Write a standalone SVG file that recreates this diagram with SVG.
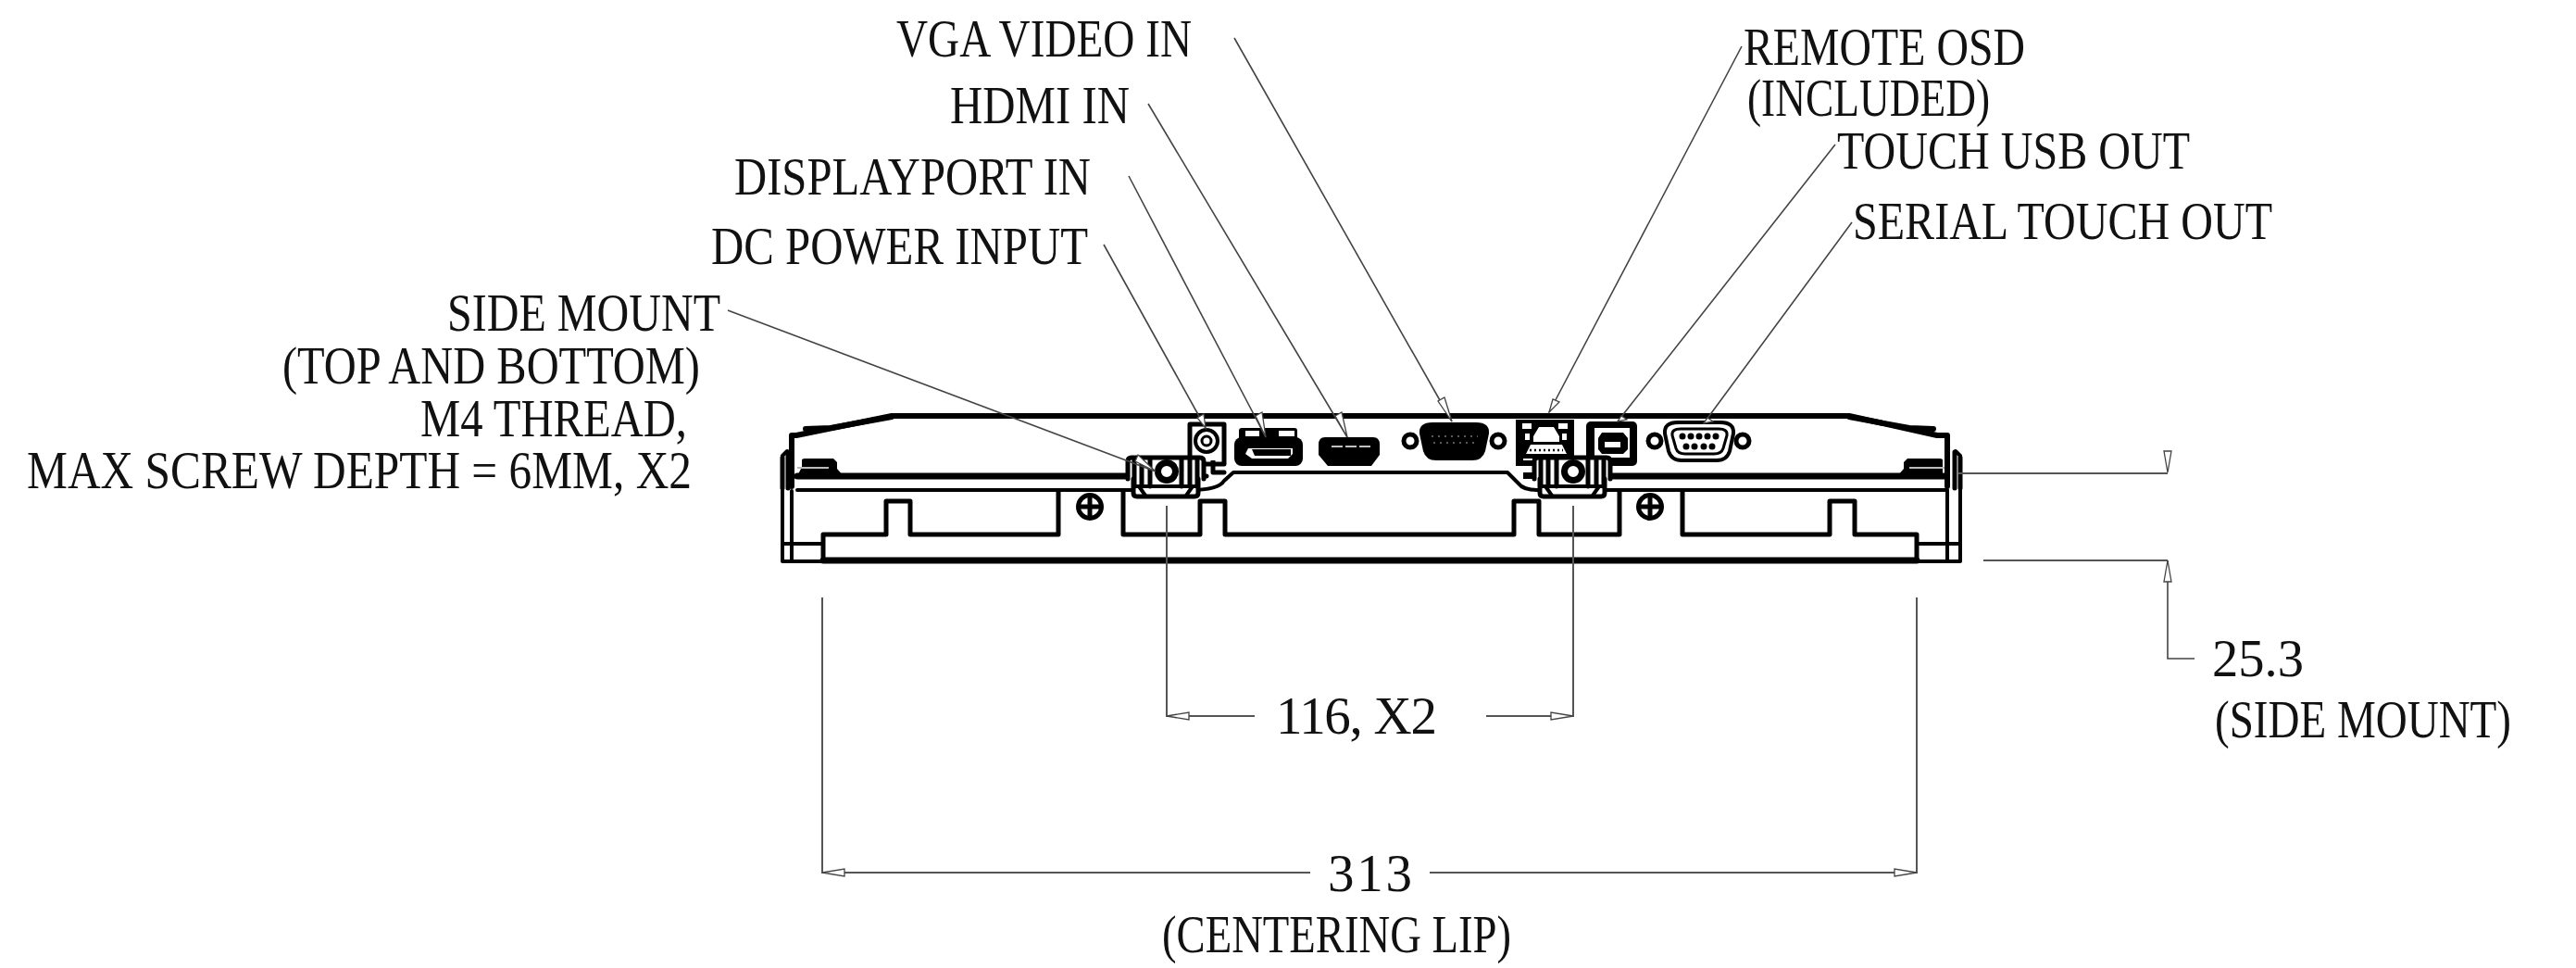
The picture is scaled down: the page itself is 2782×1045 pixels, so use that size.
<svg xmlns="http://www.w3.org/2000/svg" width="2782" height="1045" viewBox="0 0 2782 1045">
<style>
text{font-family:"Liberation Serif","Times New Roman",serif;font-size:57px;fill:#111}
.k{fill:none;stroke:#000;stroke-linejoin:round;stroke-linecap:round}
.t7{stroke-width:7}.t6{stroke-width:6}.t5{stroke-width:5}.t4{stroke-width:4}.t3{stroke-width:3}.t2{stroke-width:2}
.b{fill:#000}.w{fill:#fff}
.l{fill:none;stroke:#444;stroke-width:1.6}
.d{fill:none;stroke:#555;stroke-width:2}
.a{fill:#fff;stroke:#444;stroke-width:1.3}
</style>
<defs>
<g id="hole"><circle r="7" class="k t5" fill="none"/></g>
<g id="phil"><circle r="12.5" class="k t5"/><path d="M-9 0H9M0-9V9" class="k t5"/></g>
<g id="bracket">
<path d="M-41 -15H41V8H36V27H-36V8H-41Z" class="w"/>
<path d="M-41 8V-11Q-41-15-37-15H37Q41-15 41-11V8M-35 8V23Q-35 27-31 27H31Q35 27 35 23V8" class="k t5"/>
<path d="M-34-14V16M-26-14V16M-17-14V16M34-14V16M26-14V16M17-14V16" class="k t5"/>
<path d="M-34 16H34M-29 16L-22 26M29 16L22 26" class="k t4"/>
<circle cx="1" r="9.5" class="k t7"/><path d="M-3 1A4 4 0 0 1 5 1Z" class="w"/>
</g>
</defs>
<g id="panel">
<path d="M963 449H1997L2092 470H2103V525M963 449L860 470H855V525" class="k t6"/>
<path d="M963 450L897 462L870 463" class="k t6"/>
<path d="M1997 450L2062 462L2088 463" class="k t6"/>
<path d="M861 514H1218M1742 514H2100" class="k t7"/>
<path d="M861 529H1225M1730 529H2103" class="k t4"/>
<path d="M845 492V606H889M850 487L845 492M2117 606H2070M2117 492V606M2112 487L2117 492" class="k t4"/>
<path d="M855 530V606M2103 530V606M845 587H889M2070 587H2117" class="k t4"/>
<path d="M889 605H2070" class="k t7"/>
<path d="M889 605V577H957V541H983V577H1143V530M1213 530V577H1296V541H1323V577H1635V541H1662V577H1749V530M1817 530V577H1976V541H2003V577H2070V605" class="k t5"/>
<path d="M866 504V497Q866 495 869 495H900L904 499V506L911 514H861" class="b"/>
<path d="M861 505H895" stroke="#bbb" stroke-width="2"/>
<path d="M2098 504V497Q2098 495 2095 495H2060L2056 499V506L2049 514H2098" class="b"/>
<path d="M2100 505H2062" stroke="#bbb" stroke-width="2"/>
<path d="M845 494V527M851 488V527M2117 494V527M2111 488V527" class="k t5"/>
<path d="M1218 529H1285Q1316 529 1322 519L1332 510H1628L1640 522Q1645 529 1660 529H1730" class="k t4"/>
<path d="M1290 502V514H1303M1322 510H1310V497" class="k t5"/>
<rect x="1645" y="510" width="20" height="7" class="b"/>
</g>
<g id="dc-jack"><rect x="1285" y="458" width="37" height="43" class="k t5"/><rect x="1289" y="461" width="29" height="36" fill="#fff"/><circle cx="1303" cy="476" r="12" class="k t4"/><circle cx="1303" cy="476" r="5" class="k t3"/></g>
<g id="displayport">
<rect x="1333" y="472" width="74" height="31" rx="8" class="b"/>
<rect x="1338" y="462" width="63" height="14" rx="3" class="b"/>
<rect x="1345" y="465" width="15" height="6" class="w"/><rect x="1381" y="465" width="17" height="6" class="w"/>
<path d="M1348 484H1396V490L1391 495H1352L1345 490Z" class="w"/><path d="M1352 485H1394V492H1355Z" class="b"/>
</g>
<g id="hdmi"><path d="M1431 472H1483Q1490 472 1490 480V491L1481 503H1434L1424 491V480Q1424 472 1431 472Z" class="b"/><path d="M1438 482H1481" stroke="#fff" stroke-width="1.5" stroke-dasharray="12 3"/></g>
<g id="vga"><path d="M1547 456H1594Q1609 456 1608 468L1604 487Q1601 497 1590 497H1551Q1540 497 1537 487L1533 468Q1532 456 1547 456Z" class="b"/><path d="M1546 471H1596M1548 478H1594" stroke="#777" stroke-width="1.5" stroke-dasharray="2 5"/><use href="#hole" x="1523" y="476"/><use href="#hole" x="1618" y="476"/></g>
<g id="rj45"><path d="M1637 453H1700V503H1637Z" class="b"/><path d="M1644 457H1654V463H1644ZM1683 457H1693V463H1683ZM1656 471L1662 461H1678L1684 471V477H1656ZM1647 468H1652V475H1647ZM1687 468H1692V475H1687ZM1653 480H1687L1692 490H1648Z" class="w"/><path d="M1652 486H1688" stroke="#000" stroke-width="2.5" stroke-dasharray="2 3"/><rect x="1645" y="495" width="12" height="2" class="w"/></g>
<g id="usb-b"><rect x="1713" y="455" width="55" height="48" rx="5" class="b"/><rect x="1722" y="462" width="38" height="32" class="w"/><path d="M1730 467H1753L1758 473V485L1753 490H1730L1726 485V473Z" class="b"/><rect x="1733" y="477" width="17" height="6" class="w"/></g>
<g id="serial">
<path d="M1812 456H1858Q1873 456 1872 468L1868 487Q1865 497 1854 497H1816Q1805 497 1802 487L1798 468Q1797 456 1812 456Z" class="k t4"/>
<path d="M1815 463H1856Q1866 463 1865 470L1861 484Q1859 490 1851 490H1820Q1812 490 1810 484L1806 470Q1805 463 1815 463Z" class="k t3"/>
<g class="b"><circle cx="1817" cy="471" r="3.5"/><circle cx="1826" cy="471" r="3.5"/><circle cx="1835" cy="471" r="3.5"/><circle cx="1844" cy="471" r="3.5"/><circle cx="1853" cy="471" r="3.5"/><circle cx="1821" cy="482" r="3.5"/><circle cx="1830" cy="482" r="3.5"/><circle cx="1840" cy="482" r="3.5"/><circle cx="1849" cy="482" r="3.5"/></g>
<use href="#hole" x="1787" y="476"/><use href="#hole" x="1882" y="476"/></g>
<g id="screw-left"><use href="#phil" x="1177" y="547"/></g>
<g id="screw-right"><use href="#phil" x="1782" y="547"/></g>
<g id="mount-left"><use href="#bracket" x="1259" y="509"/></g>
<g id="mount-right"><use href="#bracket" x="1698" y="509"/></g>
<g id="connectors">
<path class="l" d="M1333 41L1568 455M1240 112L1455 472M1219 190L1367 472M1192 264L1302 462M786 335L1248 509M1881 50L1673 445M1982 156L1747 455M2000 240L1840 457"/>
<path class="d" d="M888 645V942H1415M2070 645V942H1544M1260 546V773H1355M1699 546V773H1605M2115 511H2341M2142 605H2341"/>
<path class="l" d="M2341 605V711H2370"/>
<g class="a">
<path d="M1568 455L1553 433L1560 429Z"/><path d="M1455 472L1442 449L1449 445Z"/><path d="M1367 472L1356 449L1363 445Z"/><path d="M1302 462L1293 451L1300 447Z"/><path d="M1248 509L1226 498L1229 491Z"/><path d="M1673 445L1677 431L1684 434Z"/><path d="M1747 455L1751 449L1757 453Z"/><path d="M1840 457L1844 451L1850 455Z"/>
<path d="M888 942L912 938V946Z"/><path d="M2070 942L2046 938V946Z"/><path d="M1260 773L1284 769V777Z"/><path d="M1699 773L1675 769V777Z"/>
<path d="M2341 510L2337 487H2345Z"/><path d="M2341 605L2337 628H2345Z"/>
</g>
</g>
<g id="labels">
<text x="968" y="61" textLength="319" lengthAdjust="spacingAndGlyphs">VGA VIDEO IN</text>
<text x="1026" y="133" textLength="194" lengthAdjust="spacingAndGlyphs">HDMI IN</text>
<text x="793" y="210" textLength="385" lengthAdjust="spacingAndGlyphs">DISPLAYPORT IN</text>
<text x="768" y="285" textLength="407" lengthAdjust="spacingAndGlyphs">DC POWER INPUT</text>
<text x="483" y="357" textLength="295" lengthAdjust="spacingAndGlyphs">SIDE MOUNT</text>
<text x="305" y="414" textLength="451" lengthAdjust="spacingAndGlyphs">(TOP AND BOTTOM)</text>
<text x="454" y="471" textLength="288" lengthAdjust="spacingAndGlyphs">M4 THREAD,</text>
<text x="29" y="527" textLength="718" lengthAdjust="spacingAndGlyphs">MAX SCREW DEPTH = 6MM, X2</text>
<text x="1883" y="70" textLength="304" lengthAdjust="spacingAndGlyphs">REMOTE OSD</text>
<text x="1887" y="125" textLength="262" lengthAdjust="spacingAndGlyphs">(INCLUDED)</text>
<text x="1984" y="182" textLength="381" lengthAdjust="spacingAndGlyphs">TOUCH USB OUT</text>
<text x="2001" y="258" textLength="453" lengthAdjust="spacingAndGlyphs">SERIAL TOUCH OUT</text>
<text x="2389" y="730" textLength="99" lengthAdjust="spacingAndGlyphs">25.3</text>
<text x="2392" y="796" textLength="320" lengthAdjust="spacingAndGlyphs">(SIDE MOUNT)</text>
<text x="1378" y="792" textLength="174" lengthAdjust="spacing">116, X2</text>
<text x="1434" y="962" textLength="91" lengthAdjust="spacing">313</text>
<text x="1255" y="1028" textLength="377" lengthAdjust="spacingAndGlyphs">(CENTERING LIP)</text>
</g>
</svg>
